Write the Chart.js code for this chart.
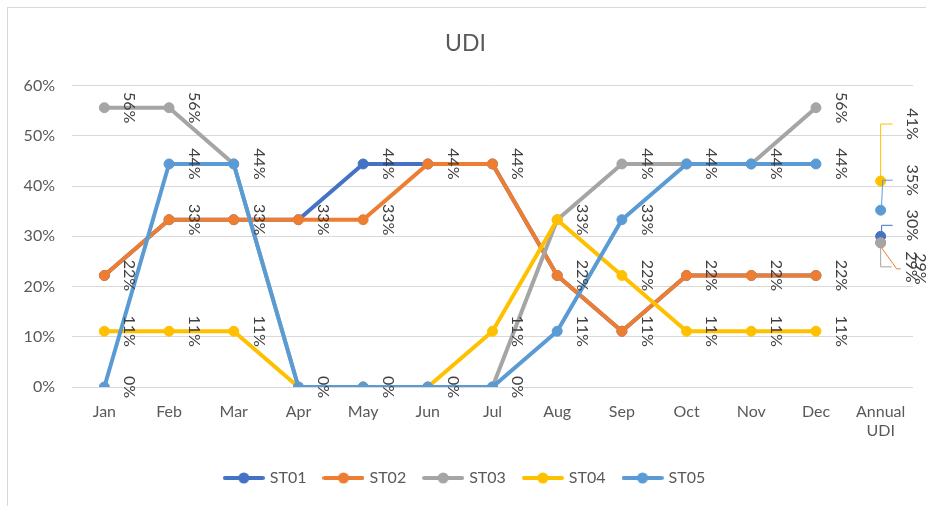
<!DOCTYPE html>
<html><head><meta charset="utf-8">
<script src="https://cdn.jsdelivr.net/npm/chart.js@4/dist/chart.umd.min.js"></script>
<style>
html,body{margin:0;padding:0;background:#fff;}
#wrap{position:relative;width:926px;height:506px;overflow:hidden;background:#fff;}
#frame{position:absolute;left:7px;top:7px;width:960px;height:540px;border:1px solid #d9d9d9;box-sizing:border-box;}
canvas{position:absolute;left:0;top:0;}
</style></head><body>
<div id="wrap"><div id="frame"></div><canvas id="c" width="926" height="506"></canvas></div>
<script>
// ---- data ----
const categories = ['Jan','Feb','Mar','Apr','May','Jun','Jul','Aug','Sep','Oct','Nov','Dec',['Annual','UDI']];
const seriesNames = ['ST01','ST02','ST03','ST04','ST05'];
const st01 = [0.222,0.333,0.333,0.333,0.444,0.444,0.444,0.222,0.111,0.222,0.222,0.222,0.300];
const st02 = [0.222,0.333,0.333,0.333,0.333,0.444,0.444,0.222,0.111,0.222,0.222,0.222,0.287];
const st03 = [0.556,0.556,0.444,0,0,0,0,0.333,0.444,0.444,0.444,0.556,0.287];
const st04 = [0.111,0.111,0.111,0,0,0,0.111,0.333,0.222,0.111,0.111,0.111,0.410];
const st05 = [0,0.444,0.444,0,0,0,0,0.111,0.333,0.444,0.444,0.444,0.352];
const yMin = 0, yMax = 0.6, yStep = 0.1;

// ---- style ----
const seriesValues = [st01, st02, st03, st04, st05];
const colors = ['#4472C4','#ED7D31','#A5A5A5','#FFC000','#5B9BD5'];
const FONT = "Lato, 'Open Sans', sans-serif";
const ANNUAL = categories.length - 1;
const pct = v => Math.round(v * 100) + '%';

function legendMarker(color){
  const c = document.createElement('canvas');
  c.width = 42; c.height = 12;
  const g = c.getContext('2d');
  g.strokeStyle = color; g.lineWidth = 4; g.lineCap = 'round';
  g.beginPath(); g.moveTo(2, 6); g.lineTo(40, 6); g.stroke();
  g.fillStyle = color; g.beginPath(); g.arc(21, 6, 5.5, 0, Math.PI*2); g.fill();
  return c;
}
const markers = colors.map(legendMarker);

// annual label placement (offsets from the point, style only)
const annualLabelStyle = [
  {dx:32, dy:-11, bend:1},
  {dx:40, dy:26, bend:16},
  {dx:31, dy:24, bend:0},
  {dx:32, dy:-57, bend:0},
  {dx:32, dy:-30, bend:2}
];

const valueLabels = {
  id: 'valueLabels',
  afterDatasetsDraw(chart){
    const ctx = chart.ctx;
    const drawn = new Set();
    ctx.save();
    ctx.font = "16px " + FONT;
    ctx.fillStyle = '#404040';
    ctx.textAlign = 'center';
    ctx.textBaseline = 'middle';
    chart.data.datasets.forEach((ds, di) => {
      const meta = chart.getDatasetMeta(di);
      meta.data.forEach((pt, idx) => {
        const v = ds.data[idx];
        if (v == null) return;
        let lx = pt.x + 25, ly = pt.y;
        if (idx === ANNUAL) {
          const a = annualLabelStyle[di];
          lx = pt.x + a.dx; ly = pt.y + a.dy;
          const sgn = a.dy < 0 ? -1 : 1;
          ctx.save();
          ctx.strokeStyle = colors[di]; ctx.lineWidth = 1;
          ctx.beginPath();
          ctx.moveTo(pt.x + (a.bend ? 1 : 0), pt.y + sgn * 5);
          ctx.lineTo(pt.x + a.bend, ly);
          ctx.lineTo(lx - 20, ly);
          ctx.stroke();
          ctx.restore();
        }
        const key = Math.round(lx) + ',' + Math.round(ly) + ',' + pct(v);
        if (drawn.has(key)) return;
        drawn.add(key);
        ctx.save();
        ctx.translate(lx, ly);
        ctx.rotate(Math.PI / 2);
        ctx.fillText(pct(v), 0, 0);
        ctx.restore();
      });
    });
    ctx.restore();
  }
};

new Chart(document.getElementById('c'), {
  type: 'line',
  data: {
    labels: categories,
    datasets: seriesValues.map((vals, i) => ({
      label: seriesNames[i],
      data: vals,
      borderColor: colors[i],
      backgroundColor: colors[i],
      pointBackgroundColor: colors[i],
      pointBorderColor: colors[i],
      borderWidth: 4,
      pointRadius: 5,
      pointBorderWidth: 1,
      pointHoverRadius: 5,
      borderJoinStyle: 'round',
      borderCapStyle: 'round',
      tension: 0,
      fill: false,
      order: seriesNames.length - i,
      segment: { borderColor: ctx => ctx.p1DataIndex === ANNUAL ? 'rgba(0,0,0,0)' : undefined }
    }))
  },
  options: {
    responsive: false,
    animation: false,
    events: [],
    layout: { padding: { left: 18, right: 13, top: 10, bottom: 10 } },
    plugins: {
      title: {
        display: true, text: 'UDI', color: '#595959',
        font: { family: FONT, size: 23, weight: 'normal' },
        padding: { top: 20, bottom: 28 }
      },
      legend: {
        position: 'bottom',
        labels: {
          usePointStyle: true, pointStyleWidth: 36, padding: 19,
          color: '#595959', font: { family: FONT, size: 16 },
          generateLabels(chart){
            const items = Chart.defaults.plugins.legend.labels.generateLabels(chart);
            items.forEach(it => { it.pointStyle = markers[it.datasetIndex]; });
            return items;
          },
          sort: (a, b) => a.datasetIndex - b.datasetIndex
        }
      },
      tooltip: { enabled: false }
    },
    scales: {
      x: {
        offset: true,
        ticks: { color: '#595959', font: { family: FONT, size: 16 }, padding: 15, maxRotation: 0, autoSkip: false },
        grid: { display: false, drawTicks: false, offset: true },
        border: { display: false },
        afterFit(s){ s.height = 64; }
      },
      y: {
        min: yMin, max: yMax,
        ticks: { stepSize: yStep, callback: v => pct(v), color: '#595959', font: { family: FONT, size: 16 }, padding: 17 },
        grid: { color: '#d9d9d9', lineWidth: 1, drawTicks: false },
        border: { display: false },
        afterFit(s){ s.width = 54; }
      }
    }
  },
  plugins: [valueLabels]
});
</script>
</body></html>
